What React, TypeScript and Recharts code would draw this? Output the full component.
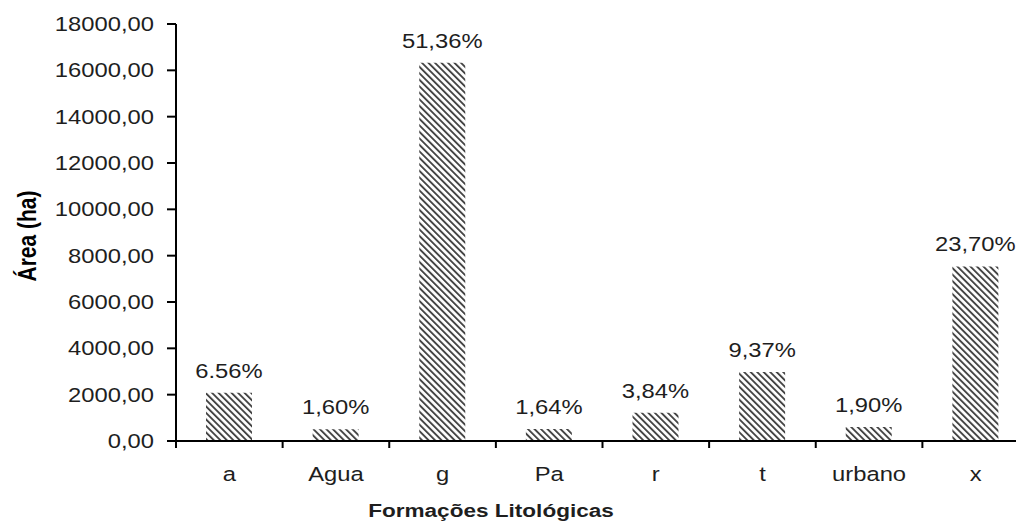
import React from 'react';
import { BarChart, Bar, XAxis, YAxis, LabelList } from 'recharts';

const categories = ['a', 'Agua', 'g', 'Pa', 'r', 't', 'urbano', 'x'];
const areaHa = [2086, 509, 16330, 521, 1221, 2979, 604, 7536];
const shareLabels = ['6.56%', '1,60%', '51,36%', '1,64%', '3,84%', '9,37%', '1,90%', '23,70%'];
const yTicks = [0, 2000, 4000, 6000, 8000, 10000, 12000, 14000, 16000, 18000];

const data = categories.map((name, i) => ({ name, area: areaHa[i], pct: shareLabels[i] }));

const CHART_W = 1040;
const CHART_H = 522;
const AXIS_X = 176;
const TOP = 24;
const BOTTOM = 441;
const RIGHT = 11;
const BAND = (CHART_W - RIGHT - AXIS_X) / categories.length;
const STRETCH = 1.22;
const FONT = "'Liberation Sans', Arial, sans-serif";
const INK = '#1e1e1e';

// text widened horizontally, like the exported spreadsheet chart
const Wide = ({ x, y, anchor = 'middle', size = 19.5, weight = 'normal', children }: any) => (
  <text
    transform={`translate(${x},${y}) scale(${STRETCH},1)`}
    textAnchor={anchor}
    fontFamily={FONT}
    fontSize={size}
    fontWeight={weight}
    fill={INK}
  >
    {children}
  </text>
);

const fmt = (v: number) => v.toFixed(2).replace('.', ',');

const YTick = (props: any) => {
  const { x, y, payload } = props;
  return (
    <Wide x={x} y={y + 7} anchor="end">
      {fmt(payload.value)}
    </Wide>
  );
};

// ticks sit on category boundaries, labels in the middle
const XTick = (props: any) => {
  const { x, y, payload, index } = props;
  const left = x - BAND / 2;
  return (
    <g>
      <line x1={left} x2={left} y1={BOTTOM} y2={BOTTOM + 7} stroke="#000" strokeWidth={2} />
      {index === categories.length - 1 && (
        <line x1={x + BAND / 2} x2={x + BAND / 2} y1={BOTTOM} y2={BOTTOM + 7} stroke="#000" strokeWidth={2} />
      )}
      <Wide x={x} y={y + 40}>
        {payload.value}
      </Wide>
    </g>
  );
};

const PctLabel = (props: any) => {
  const { x, y, width, value } = props;
  return (
    <Wide x={x + width / 2} y={y - 15}>
      {value}
    </Wide>
  );
};

export default function App() {
  return (
    <div
      style={{
        position: 'fixed',
        left: 0,
        top: 0,
        width: 1016,
        height: 522,
        overflow: 'hidden',
        background: '#fff',
      }}
    >
      <BarChart
        width={CHART_W}
        height={CHART_H}
        data={data}
        margin={{ top: TOP, right: RIGHT, left: 0, bottom: 0 }}
      >
        <defs>
          <pattern
            id="hatch"
            patternUnits="userSpaceOnUse"
            width={4.6}
            height={4.6}
            patternTransform="rotate(-45)"
          >
            <rect width={4.6} height={4.6} fill="#fff" />
            <rect width={1.9} height={4.6} fill="#454545" />
          </pattern>
        </defs>
        <XAxis
          dataKey="name"
          height={CHART_H - BOTTOM}
          axisLine={{ stroke: '#000', strokeWidth: 2 }}
          tickLine={false}
          tickSize={0}
          tickMargin={0}
          interval={0}
          tick={<XTick />}
        />
        <YAxis
          width={AXIS_X}
          domain={[0, 18000]}
          ticks={yTicks}
          interval={0}
          axisLine={{ stroke: '#000', strokeWidth: 2 }}
          tickLine={{ stroke: '#000', strokeWidth: 2 }}
          tickSize={9}
          tickMargin={13}
          tick={<YTick />}
        />
        <Bar dataKey="area" fill="url(#hatch)" barSize={46} isAnimationActive={false}>
          <LabelList dataKey="pct" content={<PctLabel />} />
        </Bar>
        <g>
          <text
            transform={`translate(36,236) scale(${STRETCH},1) rotate(-90)`}
            textAnchor="middle"
            fontFamily={FONT}
            fontSize={21}
            fontWeight="bold"
            fill="#000"
          >
            Área (ha)
          </text>
          <Wide x={491} y={517} size={18.5} weight="bold">
            Formações Litológicas
          </Wide>
        </g>
      </BarChart>
    </div>
  );
}
